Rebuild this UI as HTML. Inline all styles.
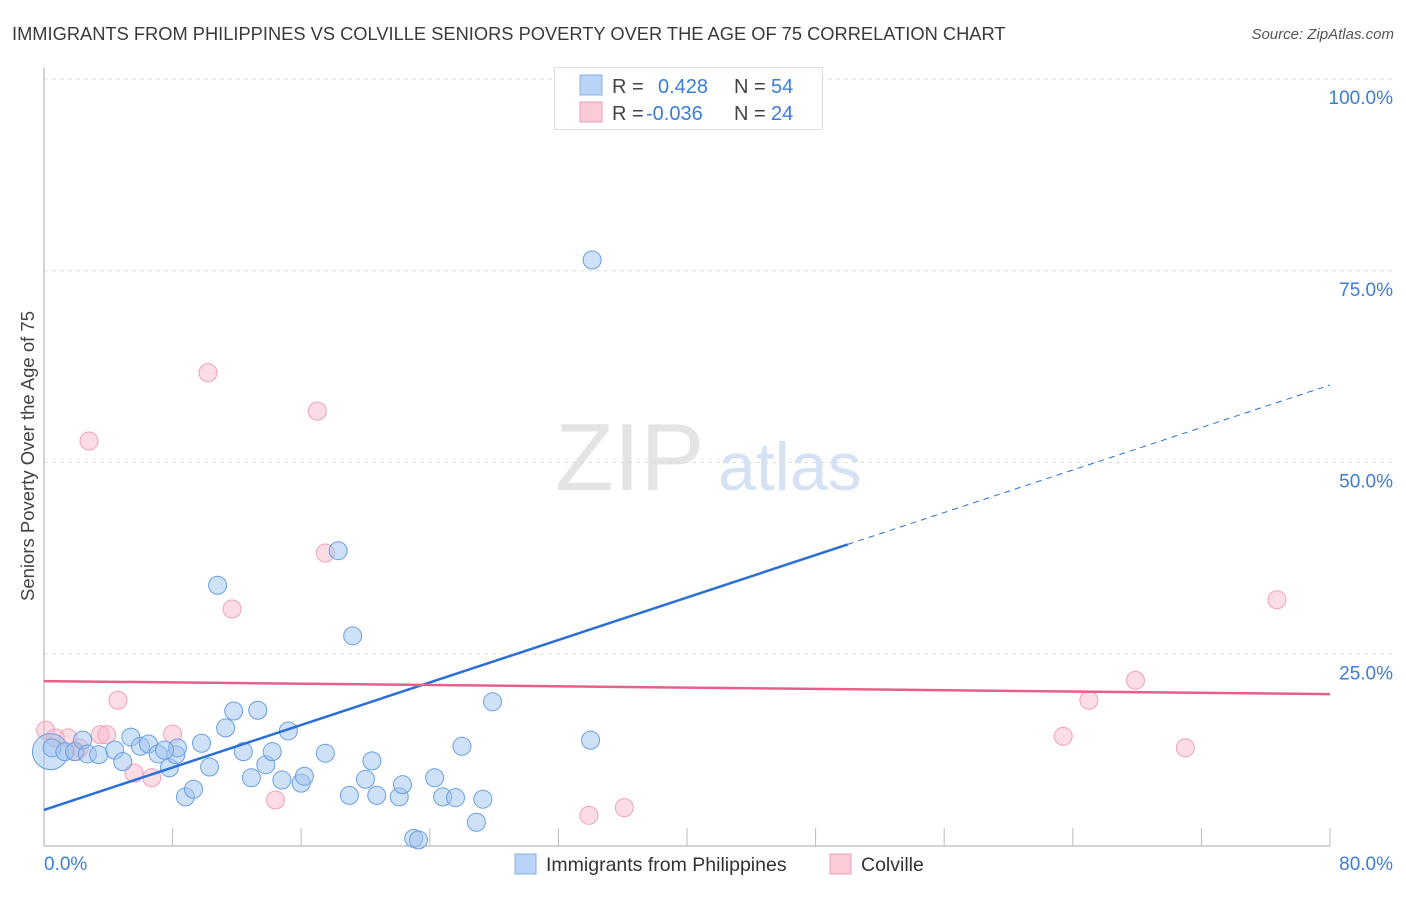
<!DOCTYPE html>
<html><head><meta charset="utf-8"><style>
body{margin:0;background:#fff;font-family:"Liberation Sans",sans-serif;}
svg text{font-family:"Liberation Sans",sans-serif;}
</style></head><body>
<svg id="c" width="1406" height="892" xmlns="http://www.w3.org/2000/svg">
<text x="12" y="40" font-size="18.3" fill="#3a3a3a">IMMIGRANTS FROM PHILIPPINES VS COLVILLE SENIORS POVERTY OVER THE AGE OF 75 CORRELATION CHART</text>
<text x="1394" y="39" font-size="15" fill="#555" font-style="italic" text-anchor="end">Source: ZipAtlas.com</text>
<text x="34" y="456" font-size="18.5" fill="#444" text-anchor="middle" transform="rotate(-90 34 456)">Seniors Poverty Over the Age of 75</text>
<text x="555" y="490" font-size="96" fill="#e4e4e4" font-family="Liberation Serif">ZIP</text>
<text x="718" y="490" font-size="68" fill="#d4e2f4">atlas</text>
<g id="grid"></g><g id="pts"></g><g id="lines"></g>
<g>
<rect x="554.5" y="67.5" width="268" height="62" fill="#fff" stroke="#ddd"/>
<rect x="580" y="75" width="22" height="20" fill="#b8d3f5" stroke="#8ab2e8"/>
<rect x="580" y="102" width="22" height="20" fill="#fbcbd8" stroke="#f0a0b8"/>
<text x="612" y="93" font-size="20" fill="#444">R = </text><text x="658" y="93" font-size="20" fill="#3b7dd8">0.428</text>
<text x="734" y="93" font-size="20" fill="#444">N = </text><text x="771" y="93" font-size="20" fill="#3b7dd8">54</text>
<text x="612" y="120" font-size="20" fill="#444">R = </text><text x="646" y="120" font-size="20" fill="#3b7dd8">-0.036</text>
<text x="734" y="120" font-size="20" fill="#444">N = </text><text x="771" y="120" font-size="20" fill="#3b7dd8">24</text>
</g>
<g>
<rect x="515" y="854" width="21" height="20" fill="#b8d3f5" stroke="#8ab2e8"/>
<text x="546" y="871" font-size="19.5" fill="#333">Immigrants from Philippines</text>
<rect x="830" y="854" width="21" height="20" fill="#fbcbd8" stroke="#f0a0b8"/>
<text x="861" y="871" font-size="19.5" fill="#333">Colville</text>
</g>
</svg>
<script>
const xTicks=[0,8,16,24,32,40,48,56,64,72,80];
const yTicks=[25,50,75,100];
const yTickLabels=["25.0%","50.0%","75.0%","100.0%"];
const blueX=[0.4,0.5,1.3,1.9,2.4,2.7,3.4,4.4,4.9,5.4,6.0,6.5,7.1,7.8,8.2,8.3,8.8,9.3,9.8,10.3,10.8,11.3,11.8,12.4,12.9,13.3,13.8,14.2,14.8,15.2,16.0,16.2,17.5,18.3,19.0,19.2,20.0,20.4,20.7,22.1,22.3,23.0,23.3,24.3,24.8,25.6,26.0,26.9,27.3,27.9,34.0,34.1,47.6,7.5];
const blueY=[12.3,12.8,12.3,12.3,13.8,12.0,11.9,12.5,11.0,14.2,13.0,13.3,12.0,10.2,11.9,12.8,6.4,7.4,13.4,10.3,34.0,15.4,17.6,12.3,8.9,17.7,10.6,12.3,8.6,15.0,8.2,9.1,12.1,38.5,6.6,27.4,8.7,11.1,6.6,6.4,8.0,1.0,0.8,8.9,6.4,6.3,13.0,3.1,6.1,18.8,13.8,76.4,100,12.5];
const pinkX=[0.1,0.7,1.5,2.8,3.5,3.9,4.6,5.6,6.7,8.0,10.2,11.7,14.4,17.0,17.5,33.9,36.1,63.4,65.0,67.9,71.0,76.7,2.0,2.2];
const pinkY=[15.1,14.1,14.1,52.8,14.5,14.5,19.0,9.5,8.9,14.6,61.7,30.9,6.0,56.7,38.2,4.0,5.0,14.3,19.0,21.6,12.8,32.1,12.3,12.8];
const blueTrend=[4.7,60.1];
const pinkTrend=[21.5,19.8];
const NS="http://www.w3.org/2000/svg";
const X=v=>44+v/80*1286, Y=v=>846-v/100*767;
function mk(t,a,p){const e=document.createElementNS(NS,t);for(const k in a)e.setAttribute(k,a[k]);p.appendChild(e);return e;}
const g=document.getElementById('grid');
yTicks.forEach((t,i)=>{
 const l=mk('line',{x1:44,x2:1394,y1:Y(t),y2:Y(t),stroke:'#ddd','stroke-dasharray':'4,4'},g);
 
 
 const tx=mk('text',{x:1393,y:Y(t)+25,'font-size':19,fill:'#3b7dd8','text-anchor':'end'},g);tx.textContent=yTickLabels[i];
 
 
});
mk('line',{x1:44,x2:44,y1:68,y2:846,stroke:'#aaa'},g);
mk('line',{x1:44,x2:1330,y1:846,y2:846,stroke:'#aaa'},g);
xTicks.slice(1).forEach(t=>{const l=mk('line',{x1:X(t),x2:X(t),y1:828,y2:846,stroke:'#bbb'},g);
 
 });
let a=mk('text',{x:44,y:870,'font-size':19,fill:'#3b7dd8'},g);a.textContent='0.0%';


a=mk('text',{x:1393,y:870,'font-size':19,fill:'#3b7dd8','text-anchor':'end'},g);a.textContent='80.0%';


const p=document.getElementById('pts');
pinkX.forEach((v,i)=>{const c=mk('circle',{cx:X(v),cy:Y(pinkY[i]),r:9,fill:'rgba(248,180,200,0.45)',stroke:'#f0a0b8','stroke-width':1},p);
 
 });
blueX.forEach((v,i)=>{const c=mk('circle',{cx:X(v),cy:Y(blueY[i]),r:i==0?18:9,fill:'rgba(160,196,240,0.5)',stroke:'#6a9fe0','stroke-width':1},p);
 if(blueY[i]>=100){c.setAttribute('fill','rgba(225,235,250,0.6)');c.setAttribute('stroke','#b8cdea');}
 
 });
const L=document.getElementById('lines');
const by=x=>blueTrend[0]+(blueTrend[1]-blueTrend[0])*x/80;
let l=mk('line',{x1:X(0),y1:Y(by(0)),x2:X(50),y2:Y(by(50)),stroke:'#2a6fd6','stroke-width':2.5},L);


l=mk('line',{x1:X(50),y1:Y(by(50)),x2:X(80),y2:Y(by(80)),stroke:'#2a6fd6','stroke-width':1,'stroke-dasharray':'6,5'},L);


l=mk('line',{x1:X(0),y1:Y(pinkTrend[0]),x2:X(80),y2:Y(pinkTrend[1]),stroke:'#e8608a','stroke-width':2.5},L);


</script>
</body></html>
